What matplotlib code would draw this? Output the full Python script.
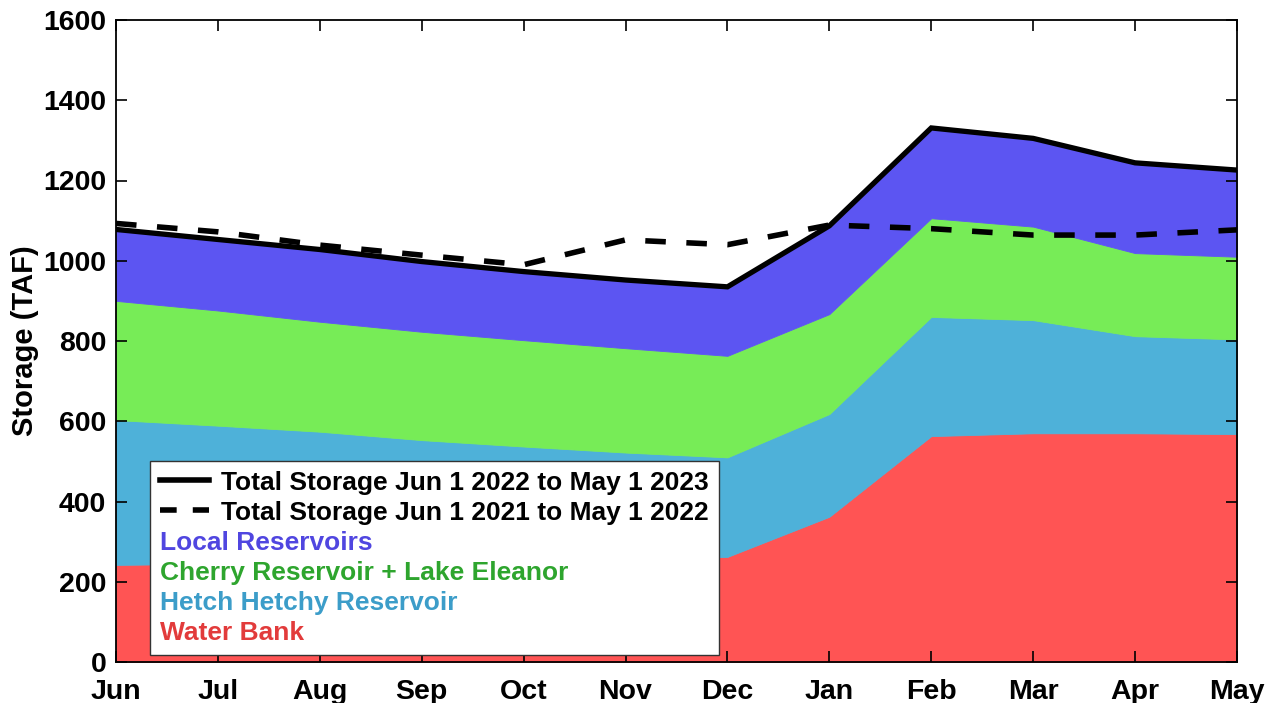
import matplotlib
matplotlib.use("Agg")
import matplotlib.pyplot as plt
import numpy as np
from matplotlib.lines import Line2D
from matplotlib.patches import Patch

plt.rcParams['font.family'] = ['Liberation Sans', 'DejaVu Sans']
plt.rcParams['font.weight'] = 'bold'

months = ["Jun", "Jul", "Aug", "Sep", "Oct", "Nov", "Dec", "Jan", "Feb", "Mar", "Apr", "May"]

water_bank = [242, 245, 248, 250, 253, 256, 262, 362, 563, 570, 570, 568]
hetch_hetchy = [361, 344, 326, 303, 284, 266, 248, 256, 297, 282, 242, 236]
cherry_eleanor = [297, 287, 274, 270, 265, 260, 253, 249, 246, 233, 207, 206]
local_res = [178, 177, 180, 175, 171, 170, 172, 220, 225, 220, 225, 216]

total_2022_23 = [1078, 1053, 1028, 998, 973, 952, 935, 1087, 1331, 1305, 1244, 1226]
total_2021_22 = [1093, 1072, 1039, 1014, 990, 1052, 1040, 1089, 1080, 1064, 1064, 1077]

yticks = [0, 200, 400, 600, 800, 1000, 1200, 1400, 1600]

area_colors = ['#FF5454', '#4EB1D9', '#77EC57', '#5C55F2']
text_colors = ['#5046E0', '#2EA52E', '#3C9DC9', '#E23B3B']

fig = plt.figure(figsize=(12.73, 7.03), dpi=100)
ax = fig.add_axes([116/1273, 41/703, 1121/1273, 642/703])

x = np.arange(len(months))
ax.stackplot(x, water_bank, hetch_hetchy, cherry_eleanor, local_res,
             colors=area_colors, edgecolor='face', linewidth=0.6)
l1, = ax.plot(x, total_2022_23, color='black', lw=3.8, solid_joinstyle='miter')
l2, = ax.plot(x, total_2021_22, color='black', lw=4.0, dashes=(3.7, 3.7))

ax.set_xlim(0, len(months) - 1)
ax.set_ylim(0, 1600)
ax.set_xticks(x)
ax.set_xticklabels(months)
ax.set_yticks(yticks)
ax.tick_params(axis='both', which='both', direction='in', length=8, width=1.2,
               top=True, right=True, labelsize=20.5)
ax.tick_params(axis='x', pad=12)
ax.tick_params(axis='y', pad=7)
for lab in ax.get_xticklabels() + ax.get_yticklabels():
    lab.set_fontweight('bold')
for s in ax.spines.values():
    s.set_linewidth(1.3)
ax.set_ylabel('Storage (TAF)', fontsize=21, fontweight='bold', labelpad=3)

labels = ['Total Storage Jun 1 2022 to May 1 2023',
          'Total Storage Jun 1 2021 to May 1 2022',
          'Local Reservoirs',
          'Cherry Reservoir + Lake Eleanor',
          'Hetch Hetchy Reservoir',
          'Water Bank']
handles = [Line2D([], [], color='black', lw=4.0),
           Line2D([], [], color='black', lw=4.0, dashes=(3.0, 2.9)),
           Patch(visible=False), Patch(visible=False), Patch(visible=False), Patch(visible=False)]
leg = ax.legend(handles, labels, loc='lower left', bbox_to_anchor=(0.0303, 0.0109),
                borderaxespad=0, frameon=True, fancybox=False,
                framealpha=1, edgecolor='#333333', handlelength=1.86,
                handletextpad=0.45, labelspacing=0.23, borderpad=0.38,
                prop={'weight': 'bold', 'size': 19})
leg.get_frame().set_linewidth(1.0)
for t, c in zip(leg.get_texts()[2:], text_colors):
    t.set_color(c)
try:
    col = leg._legend_handle_box.get_children()[0]
    for item in col.get_children()[2:]:
        item.sep = 0
        item.get_children()[0].width = 0
except Exception:
    pass

fig.savefig('out.png', dpi=100)
